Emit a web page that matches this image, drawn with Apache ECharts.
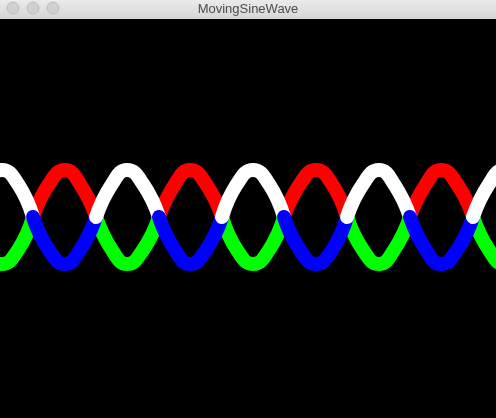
<!DOCTYPE html>
<html style="height: 100%">
<head>
    <meta charset="utf-8">
    <script src="https://cdn.jsdelivr.net/npm/echarts@6/dist/echarts.min.js"></script>
</head>
<body style="height: 100%; margin: 0; background: #000">
    <div id="container" style="width: 496px; height: 418px"></div>
    <script type="text/javascript">
        // sample positions along the window (px) and wave heights
        var sampleX = [-29, -14, 2, 18, 33, 49, 65, 80, 96, 112, 127, 143, 159, 175, 190, 206, 222, 237,
            253, 269, 284, 300, 316, 332, 347, 363, 379, 394, 410, 426, 441, 457, 473, 489, 504, 520, 535];
        var waveA = [217, 184, 170, 184, 217, 250, 264, 250, 217, 184, 170, 184, 217, 250, 264, 250, 217, 184,
            170, 184, 217, 250, 264, 250, 217, 184, 170, 184, 217, 250, 264, 250, 217, 184, 170, 184, 217];
        var waveB = [217, 250, 264, 250, 217, 184, 170, 184, 217, 250, 264, 250, 217, 184, 170, 184, 217, 250,
            264, 250, 217, 184, 170, 184, 217, 250, 264, 250, 217, 184, 170, 184, 217, 250, 264, 250, 217];
        var colorsA = ['#ffffff', '#0000ff'];
        var colorsB = ['#00ff00', '#ff0000'];

        function segments(ys, colors) {
            var out = [];
            for (var k = 0; k + 4 < sampleX.length; k += 4) {
                var pts = [];
                for (var i = k; i <= k + 4; i++) pts.push([sampleX[i], ys[i]]);
                out.push({
                    type: 'line',
                    data: pts,
                    smooth: 0.5,
                    showSymbol: false,
                    silent: true,
                    lineStyle: { width: 14, color: colors[(k / 4) % 2], cap: 'round' }
                });
            }
            return out;
        }

        var myChart = echarts.init(document.getElementById('container'));
        var option = {
            backgroundColor: '#000',
            animation: false,
            grid: { left: 0, right: 0, top: 0, bottom: 0 },
            xAxis: { type: 'value', min: 0, max: 496, show: false },
            yAxis: { type: 'value', min: 0, max: 418, inverse: true, show: false },
            graphic: [
                { type: 'rect', shape: { x: 0, y: 0, width: 496, height: 19 }, z: 100,
                  style: { fill: new echarts.graphic.LinearGradient(0, 0, 0, 1, [
                      { offset: 0, color: '#ebebeb' }, { offset: 1, color: '#d5d5d5' }]) } },
                { type: 'circle', shape: { cx: 13, cy: 8, r: 6 }, z: 101, style: { fill: '#d0d0d0', stroke: '#bdbdbd' } },
                { type: 'circle', shape: { cx: 33, cy: 8, r: 6 }, z: 101, style: { fill: '#d0d0d0', stroke: '#bdbdbd' } },
                { type: 'circle', shape: { cx: 53, cy: 8, r: 6 }, z: 101, style: { fill: '#d0d0d0', stroke: '#bdbdbd' } },
                { type: 'text', x: 248, y: 9, z: 101,
                  style: { text: 'MovingSineWave', fill: '#4d4d4d', font: '13px "Liberation Sans", sans-serif',
                           textAlign: 'center', textVerticalAlign: 'middle' } }
            ],
            series: segments(waveB, colorsB).concat(segments(waveA, colorsA))
        };
        myChart.setOption(option);
    </script>
</body>
</html>
